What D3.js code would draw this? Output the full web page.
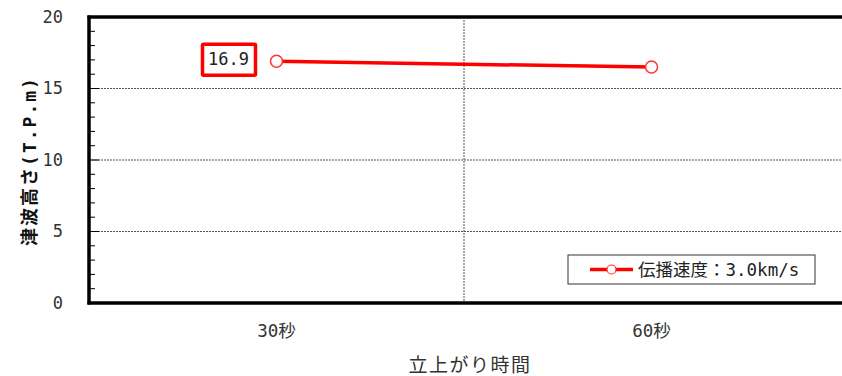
<!DOCTYPE html>
<html><head><meta charset="utf-8">
<script src="https://cdn.jsdelivr.net/npm/d3@7"></script>
<style>body{margin:0;background:#fff}svg{display:block}text{font-family:"DejaVu Sans Mono","Noto Sans CJK JP",monospace}</style>
</head><body><svg id="c" width="842" height="376"></svg>
<script>
const categories = ["30秒", "60秒"];
const values = [16.9, 16.5];
const yTicks = [0, 5, 10, 15, 20];
const minorTicks = [1,2,3,4,6,7,8,9,11,12,13,14,16,17,18,19];
const seriesName = "伝播速度：3.0km/s";
const dataLabel = "16.9";
const yTitle = "津波高さ(T.P.m)";
const xTitle = "立上がり時間";

const svg = d3.select("#c");
const L = 89, T = 17, B = 303, R = 842 + 3;
const x = d3.scaleBand().domain(categories).range([L, L + 750]);
const y = d3.scaleLinear().domain([0, 20]).range([B, T]);

// gridlines horizontal
svg.append("g").selectAll("line").data(yTicks.filter(d => d > 0 && d < 20)).join("line")
  .attr("x1", L).attr("x2", R).attr("y1", d => y(d)).attr("y2", d => y(d))
  .attr("stroke", "#555").attr("stroke-width", 1).attr("stroke-dasharray", "2,1");
// vertical gridline between categories
svg.append("line").attr("x1", x(categories[1])).attr("x2", x(categories[1]))
  .attr("y1", T).attr("y2", B).attr("stroke", "#555").attr("stroke-dasharray", "2,1");

// minor ticks
svg.append("g").selectAll("line").data(minorTicks).join("line")
  .attr("x1", L).attr("x2", L + 6).attr("y1", d => y(d)).attr("y2", d => y(d))
  .attr("stroke", "#000").attr("stroke-width", 1);
svg.append("g").selectAll("line").data(yTicks).join("line")
  .attr("x1", L).attr("x2", L + 10).attr("y1", d => y(d)).attr("y2", d => y(d))
  .attr("stroke", "#000").attr("stroke-width", 1);

// axes frame
svg.append("line").attr("x1", L).attr("x2", L).attr("y1", T - 1.5).attr("y2", B + 1.5).attr("stroke", "#000").attr("stroke-width", 3.5);
svg.append("line").attr("x1", L - 1.5).attr("x2", R).attr("y1", B).attr("y2", B).attr("stroke", "#000").attr("stroke-width", 3.5);
svg.append("line").attr("x1", L - 1.5).attr("x2", R).attr("y1", T).attr("y2", T).attr("stroke", "#000").attr("stroke-width", 3.5);

// y tick labels
svg.append("g").selectAll("text").data(yTicks).join("text")
  .attr("x", 63).attr("y", d => y(d)).attr("dy", "0.35em").attr("text-anchor", "end")
  .attr("font-size", 17).attr("fill", "#333").text(d => d);

// x labels
svg.append("g").selectAll("text").data(categories).join("text")
  .attr("x", d => x(d) + x.bandwidth() / 2).attr("y", 331).attr("dy", "0.35em")
  .attr("text-anchor", "middle").attr("font-size", 17.5).attr("fill", "#333").text(d => d);

// titles
svg.append("text").attr("x", 470).attr("y", 365).attr("dy", "0.35em").attr("text-anchor", "middle")
  .attr("font-size", 19).attr("letter-spacing", 1.5).attr("fill", "#333").text(xTitle);
svg.append("text").attr("transform", "translate(30,161) rotate(-90)").attr("dy", "0.35em")
  .attr("text-anchor", "middle").attr("font-size", 18).attr("letter-spacing", 2).attr("font-weight", "bold").attr("fill", "#111").text(yTitle);

// series
const pts = categories.map((c, i) => [x(c) + x.bandwidth() / 2, y(values[i])]);
svg.append("path").attr("d", d3.line()(pts)).attr("fill", "none").attr("stroke", "#ff0000").attr("stroke-width", 3.5);
svg.append("g").selectAll("circle").data(pts).join("circle")
  .attr("cx", d => d[0]).attr("cy", d => d[1]).attr("r", 6)
  .attr("fill", "#fff").attr("stroke", "#ff3333").attr("stroke-width", 1.5);

// data label
const lx = pts[0][0] - 48, ly = pts[0][1] - 2;
svg.append("rect").attr("x", lx - 26).attr("y", ly - 15).attr("width", 53).attr("height", 31)
  .attr("fill", "#fff").attr("stroke", "#ff0000").attr("stroke-width", 3.5).attr("rx", 1);
svg.append("text").attr("x", lx).attr("y", ly).attr("dy", "0.35em").attr("text-anchor", "middle")
  .attr("font-size", 17).attr("fill", "#222").text(dataLabel);

// legend
const lg = svg.append("g").attr("transform", "translate(568,255)");
lg.append("rect").attr("width", 247).attr("height", 29).attr("fill", "#fff").attr("stroke", "#333").attr("stroke-width", 1);
lg.append("line").attr("x1", 22).attr("x2", 65).attr("y1", 14.5).attr("y2", 14.5).attr("stroke", "#ff0000").attr("stroke-width", 3.5);
lg.append("circle").attr("cx", 43.5).attr("cy", 14.5).attr("r", 4.5).attr("fill", "#fff").attr("stroke", "#ff3333").attr("stroke-width", 1.2);
lg.append("text").attr("x", 70).attr("y", 14.5).attr("dy", "0.35em").attr("font-size", 17.5).attr("fill", "#222").text(seriesName);
</script></body></html>
